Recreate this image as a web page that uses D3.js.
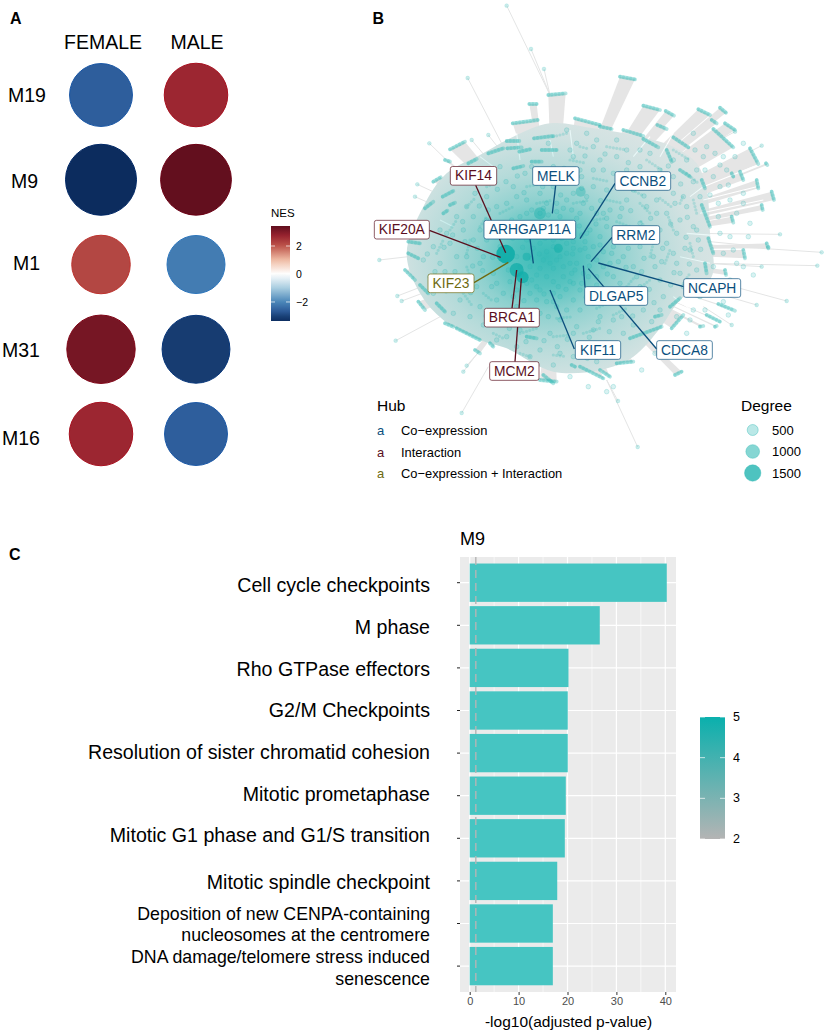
<!DOCTYPE html>
<html><head><meta charset="utf-8">
<script src="https://cdnjs.cloudflare.com/ajax/libs/d3/7.8.5/d3.min.js"></script>
<style>html,body{margin:0;background:#fff}svg{display:block}text{font-family:"Liberation Sans",Arial,sans-serif;fill:#000}</style>
</head><body><svg id="c" width="829" height="1036" viewBox="0 0 829 1036"></svg>
<script>
// ---- Panel A data
const sexes = ["FEMALE","MALE"];
const modules = ["M19","M9","M1","M31","M16"];
const nesFemale = [-2.62,-3.4,2.2,3.15,2.68];
const nesMale = [2.68,3.38,-2.15,-3.1,-2.62];
const nesTicks = [2,0,-2];
// ---- Panel C data
const terms = [["Cell cycle checkpoints"],["M phase"],["Rho GTPase effectors"],["G2/M Checkpoints"],["Resolution of sister chromatid cohesion"],["Mitotic prometaphase"],["Mitotic G1 phase and G1/S transition"],["Mitotic spindle checkpoint"],["Deposition of new CENPA-containing","nucleosomes at the centromere"],["DNA damage/telomere stress induced","senescence"]];
const pvals = [40.3,26.6,20.2,20.05,20.05,19.65,19.45,17.9,17,17];
const pTicks = [0,10,20,30,40];
const colorTicks = [5,4,3,2];
// ---- Panel B data: layout units. The thousands of single
// nodes cannot be read one by one: outer groups are kept as clump segments,
// the interior as a sample of estimated node positions over a density field.
const hullPts = [[520,410],[630,370],[760,385],[900,410],[1000,440],[1070,490],[1100,570],[1110,700],[1115,830],[1020,900],[960,985],[880,1070],[780,1110],[640,1115],[500,1045],[420,1020],[310,960],[240,880],[200,760],[250,620],[320,520],[420,465]];
const clumps = [[625,285,677,280],[568,312,590,312],[518,370,593,360],[582,415,640,408],[500,423,538,423],[445,460,490,445],[502,445,545,442],[538,455,570,448],[330,448,375,425],[385,490,410,477],[315,480,330,485],[280,545,302,532],[255,625,280,605],[308,590,340,573],[330,615,345,608],[310,640,322,632],[605,450,650,450],[705,355,780,375],[575,485,605,485],[520,505,550,498],[840,230,885,238],[910,317,960,330],[977,333,1002,347],[1075,328,1110,345],[1140,323,1158,338],[780,380,815,387],[850,390,910,408],[910,417,955,442],[952,375,980,387],[1000,412,1045,442],[1120,387,1180,442],[1155,370,1185,390],[1230,445,1255,492],[1278,490,1282,495],[1250,540,1255,565],[1295,575,1302,600],[1265,615,1268,630],[1085,540,1095,565],[1085,615,1110,680],[1175,650,1180,668],[1020,510,1050,530],[980,450,995,485],[1200,515,1210,540],[1175,520,1180,530],[1115,360,1130,370],[1105,715,1120,760],[1210,750,1215,775],[1280,730,1285,745],[1155,810,1158,825],[1095,790,1100,820],[990,920,1020,895],[945,950,965,945],[995,985,1030,945],[870,1015,965,980],[830,1090,880,1085],[1005,1125,1025,1115],[1100,945,1140,965],[1080,980,1090,978],[1125,980,1130,978],[1135,912,1185,932],[780,1110,810,1130],[205,760,235,775],[195,810,225,840],[240,855,265,880],[235,905,255,930],[290,910,315,935],[315,970,340,980],[350,985,420,1020],[450,1030,460,1040],[405,1050,420,1060],[560,1010,590,1015],[600,1140,650,1145],[695,1095,705,1100],[205,725,240,730],[720,1100,790,1135],[610,1125,640,1150]];
// short node arcs inside the body
const innerClumps = [[690,480,740,490],[800,440,860,450],[920,480,965,510],[1040,520,1075,550],[560,560,600,552],[640,530,690,525],[760,535,810,545],[860,560,905,585],[960,595,1000,625],[440,560,475,545],[380,620,405,595],[330,690,350,660],[290,760,310,720],[300,840,320,880],[370,880,395,915],[450,945,490,975],[540,1000,590,985],[640,1010,690,1005],[730,1000,780,985],[820,945,860,925],[905,860,935,835],[975,790,990,750],[1000,690,985,650],[900,610,930,640],[800,600,850,610],[700,610,750,600],[590,610,640,600],[480,640,520,620],[420,680,440,650],[380,760,390,720],[390,830,380,800],[430,880,460,905],[540,945,580,950],[650,955,700,950],[770,925,810,905],[860,860,885,830],[930,770,940,730],[920,690,900,660],[830,665,870,680],[760,660,800,655],[1060,600,1070,640],[1050,730,1060,770],[1030,850,1050,820],[640,1065,680,1070],[720,1060,760,1050],[540,1060,570,1070],[460,1000,490,1015],[1020,610,1030,585],[1000,450,1050,480],[640,410,680,400],[720,440,740,445]];
const spokes = [[500,17,630,285],[573,147,630,285],[612,207,630,285],[383,234,490,440],[268,430,330,490],[395,420,445,480],[445,405,480,450],[232,553,290,580],[225,590,270,610],[118,780,205,770],[172,888,245,860],[185,903,260,875],[167,1022,310,945],[380,1097,440,1030],[370,1115,420,1050],[365,1239,445,1100],[893,1341,800,1140],[834,1203,800,1140],[1445,757,1110,735],[1432,797,1100,790],[1320,703,1040,700],[1285,742,1110,725],[1265,800,1100,790],[1340,903,1200,865],[1250,915,1130,880],[1175,975,1090,920],[1265,437,1120,510],[1185,395,1120,430]];
const slits = [[1040,700,1120,706],[1020,770,1110,790],[1090,560,1240,500],[1090,600,1250,560],[960,470,1000,400],[880,470,930,410],[640,470,630,420],[700,470,690,390],[1050,590,1090,560],[300,660,340,680],[460,500,420,470],[540,480,530,400],[470,1040,440,1090],[520,1060,500,1110],[1000,890,1080,950],[1030,850,1140,900],[1080,640,1270,600]];
const innerNodes = [[480,500],[555,520],[640,500],[700,470],[760,440],[830,470],[900,500],[960,510],[1040,480],[1090,470],[1140,495],[1185,470],[1060,545],[1000,580],[940,560],[880,530],[820,520],[760,510],[700,540],[640,560],[590,540],[520,560],[440,590],[380,620],[350,650],[300,690],[280,740],[300,790],[270,830],[330,850],[380,830],[350,770],[400,720],[440,660],[500,610],[560,600],[620,610],[680,600],[740,590],[800,570],[860,600],[920,620],[980,640],[1040,620],[1060,680],[1010,700],[960,690],[900,670],[840,650],[790,640],[720,640],[660,650],[600,670],[540,650],[480,670],[420,690],[380,770],[430,770],[460,820],[410,860],[360,900],[420,920],[470,900],[530,870],[590,860],[640,880],[700,850],[760,870],[820,830],[880,800],[940,770],[1000,760],[1050,750],[1070,810],[1020,820],[960,840],[900,860],[850,910],[780,950],[720,930],[660,960],[600,940],[540,990],[480,960],[430,975],[470,1020],[530,1040],[600,1050],[660,1060],[720,1030],[790,1050],[850,1000],[910,930],[970,890],[1030,860],[1060,870],[740,700],[780,710],[820,740],[860,720],[900,740],[930,710],[980,730],[1020,660],[1080,590],[1140,560],[1170,600],[1210,610],[1230,670],[1170,710],[1150,760],[1190,790],[1240,825],[1130,850],[1080,890],[1060,930],[1010,950],[560,720],[600,730],[640,720],[680,730],[720,750],[770,780],[810,790],[850,770],[800,680],[760,740],[700,700],[650,690],[610,780],[650,780],[690,790],[730,820],[670,830],[620,830],[570,800],[590,900],[530,920],[650,920],[700,900],[760,910],[820,880],[900,890],[960,930],[480,740],[440,720],[330,730],[250,780],[320,700],[370,690],[400,650],[470,620],[530,590],[600,580],[660,530],[720,510],[780,480],[860,450],[930,460],[1000,480],[1070,510],[1120,530],[1000,530],[950,600],[1030,590],[880,570],[760,560],[700,580],[575,630],[625,645],[690,670],[860,690],[1075,720],[1010,790],[945,800],[890,830],[840,850],[770,830],[710,980],[760,990],[820,960],[630,1000],[570,1070],[640,1095],[700,1070],[770,1085],[500,1010],[390,950],[340,940],[280,880],[680,390],[740,400],[830,420],[625,430],[710,430],[1060,400],[1100,440],[1150,470],[1210,430],[1165,555],[1210,580],[1135,610],[1135,650],[1225,710],[1180,750],[1090,860],[1150,905],[1165,945],[1040,1000],[1000,1030],[945,1060],[905,1110],[820,1160],[800,1175],[745,1160],[690,1130],
[498,545],[532,528],[612,522],[672,505],[735,468],[795,462],[865,488],[925,528],[985,498],[1022,552],[972,558],[912,588],[845,548],[782,602],[725,565],[662,585],[608,560],[552,578],[472,568],[418,618],[368,665],[338,705],[312,742],[262,762],[285,815],[345,815],[398,798],[412,745],[452,692],[508,682],[562,672],[612,698],[668,708],[718,678],[768,672],[822,692],[872,632],[932,655],[992,672],[1042,652],[1038,712],[968,745],[912,775],[858,802],[802,822],[748,798],[698,762],[652,752],[598,762],[548,742],[518,715],[458,772],[428,812],[392,878],[438,948],[498,932],[552,902],[612,882],[678,868],[738,892],[798,908],[868,888],[928,868],[992,855],[1048,792],[1082,748],[1002,818],[942,908],[878,948],[808,995],[748,1012],[682,1018],[612,1022],[558,1025],[508,985],[652,1040],[742,1075],[812,1030],[880,975],[935,965],[600,805],[640,805],[680,760],[710,790],[655,860],[620,905],[575,840],[545,825],[585,700],[630,675],[670,625],[710,655],[755,625],[810,630],[845,625],[905,705],[950,640],[1005,610],[470,700],[495,780],[510,845],[455,860],[375,725],[420,790],[350,860],[315,815],[445,630],[405,580],[560,640],[520,690],[600,640],[650,610],[735,725],[790,755],[835,785],[745,770],[725,850],[695,820],[660,890],[625,950],[575,960],[520,950],[700,1000],[775,965],[845,950],[905,815],[865,745],[965,785],[1035,745],[1070,690],[915,545],[860,510],[790,510],[725,530],[575,500],[690,450],[770,420],[900,450],[1065,450],[1125,460],[1095,510],[1160,510],[1110,585],[1190,640],[1140,700],[1210,800],[1120,800],[1170,840],[1150,870],[1095,930],[1050,960],
[545,700],[570,690],[615,715],[640,740],[665,715],[700,725],[725,705],[750,690],[580,745],[620,755],[660,770],[700,745],[735,745],[575,775],[590,825],[630,790],[670,800],[705,810],[745,830],[560,850],[640,845],[690,845],[600,870],[570,880],[640,905],[680,930],[720,870],[770,855],[790,800],[815,760],[780,735],[830,710],[800,655],[770,640],[730,610],[695,630],[650,635],[610,625],[515,660],[495,705],[530,770],[505,810],[540,800],[520,890],[490,880],[470,850]];
const hubNodes = [[497,762,9.3,.95],[530,810,7,.75],[548,832,6,.8],[600,640,6,.4],[722,575,5,.35],[560,770,4,.5],[655,745,4.5,.55]];
const hubLabels = [
 {t:"KIF14",k:1,cx:400.5,cy:527.5,w:139,x2:497,y2:758,x1:407,y1:556},
 {t:"MELK",k:0,cx:647.5,cy:528,w:139,x2:637,y2:640,x1:647,y1:556},
 {t:"CCNB2",k:0,cx:908.5,cy:543,w:167,x2:720,y2:716,x1:825,y1:550},
 {t:"KIF20A",k:1,cx:185.5,cy:689,w:165,x2:482,y2:772,x1:268,y1:691},
 {t:"ARHGAP11A",k:0,cx:569.5,cy:689,w:275,x2:580,y2:790,x1:570,y1:717},
 {t:"RRM2",k:0,cx:887.5,cy:705,w:143,x2:753,y2:785,x1:816,y1:712},
 {t:"KIF23",k:2,cx:333,cy:850,w:138,x2:505,y2:787,x1:402,y1:848},
 {t:"NCAPH",k:0,cx:1116.5,cy:864,w:171,x2:775,y2:789,x1:1031,y1:860},
 {t:"DLGAP5",k:0,cx:828.5,cy:888,w:189,x2:730,y2:797,x1:735,y1:862},
 {t:"BRCA1",k:1,cx:515.5,cy:953,w:165,x2:530,y2:810,x1:516,y1:925},
 {t:"KIF11",k:0,cx:774,cy:1050,w:136,x2:630,y2:870,x1:703,y1:1047},
 {t:"CDCA8",k:0,cx:1033.5,cy:1050,w:167,x2:745,y2:806,x1:950,y1:1047},
 {t:"MCM2",k:1,cx:523,cy:1113,w:148,x2:544,y2:835,x1:525,y1:1085}];
const hubTypes = ["Co\u2212expression","Interaction","Co\u2212expression + Interaction"];
const hubColors = ["#0b4f7d","#5a0f1e","#6e6a10"];
const degreeVals = [500,1000,1500];

const svg = d3.select("#c");
const defs = svg.append("defs");
function txt(g,x,y,s,size,o={}){return g.append("text").attr("x",x).attr("y",y).text(s).attr("font-size",size).attr("text-anchor",o.a||"start").attr("dominant-baseline","central").attr("font-weight",o.w||null).style("fill",o.f||"#000");}

txt(svg,10,18,"A",16,{w:"bold"});txt(svg,372.5,18,"B",16,{w:"bold"});txt(svg,9,554,"C",16,{w:"bold"});

// ---------- Panel A
const ax = d3.scalePoint().domain(sexes).range([101,196]);
const ay = d3.scalePoint().domain(modules).range([95,434]);
const nesColor = d3.scaleLinear().domain([-3.43,-3,-2.6,-2,-1,0,1,2,2.7,3.43]).range(["#0b2a5c","#1a4278","#2f5f9e","#4a86b8","#a9cde0","#ffffff","#f0bda5","#bd554b","#9b2530","#5f0d1d"]);
const nesR = d3.scaleLinear().domain([2.15,3.4]).range([29,35.5]);
const A = svg.append("g");
const rowLabelX = {M19:8,M9:11,M1:13,M31:2,M16:2}, rowLabelDy={M19:0,M9:1,M1:-2,M31:1,M16:4};
modules.forEach((m,i)=>{
  [nesFemale[i],nesMale[i]].forEach((v,j)=>{
    const f=d3.hsl(nesColor(v));const st=d3.hsl(f.h,Math.min(1,f.s*1.35),f.l*.95);
    A.append("circle").attr("cx",ax(sexes[j])).attr("cy",ay(m)).attr("r",nesR(Math.abs(v))).attr("fill",nesColor(v)).attr("stroke",st.formatHex()).attr("stroke-width",1);
  });
  txt(A,rowLabelX[m],ay(m)+rowLabelDy[m],m,19.5);
});
txt(A,103,42,"FEMALE",19.5,{a:"middle"});txt(A,197,42,"MALE",19.5,{a:"middle"});
const ly = d3.scaleLinear().domain([-3.36,3.43]).range([321,226]);
const grA = defs.append("linearGradient").attr("id","nesG").attr("x1",0).attr("y1",1).attr("x2",0).attr("y2",0);
d3.range(0,21).forEach(i=>{const v=-3.36+i*6.79/20;grA.append("stop").attr("offset",i/20).attr("stop-color",nesColor(v));});
A.append("rect").attr("x",271).attr("y",ly(3.43)).attr("width",19).attr("height",ly(-3.36)-ly(3.43)).attr("fill","url(#nesG)");
nesTicks.forEach(t=>{
  A.append("line").attr("x1",271).attr("x2",275).attr("y1",ly(t)).attr("y2",ly(t)).attr("stroke","#fff").attr("stroke-opacity",.7);
  A.append("line").attr("x1",286).attr("x2",290).attr("y1",ly(t)).attr("y2",ly(t)).attr("stroke","#fff").attr("stroke-opacity",.7);
  txt(A,296,ly(t),t<0?"\u2212"+Math.abs(t):t,10.5);
});
txt(A,271,213,"NES",11.5);

// ---------- Panel B
const nx = d3.scaleLinear().domain([0,1467]).range([340,829]);
const ny = d3.scaleLinear().domain([0,1200]).range([0,400]);
const teal="#2fb9b5", center=[640,750];
const B = svg.append("g");
const lineGen = d3.line().x(d=>nx(d[0])).y(d=>ny(d[1]));
const hullPath = d3.line().x(d=>nx(d[0])).y(d=>ny(d[1])).curve(d3.curveCatmullRomClosed)(hullPts);
defs.append("clipPath").attr("id","hullClip").append("path").attr("d",hullPath);
B.selectAll(".sp").data(spokes).join("line").attr("x1",d=>nx(d[0])).attr("y1",d=>ny(d[1])).attr("x2",d=>nx(d[2])).attr("y2",d=>ny(d[3])).attr("stroke","#e4e5e5").attr("stroke-width",1);
B.selectAll(".fan").data(clumps).join("path").attr("d",d=>{
  const f=.42;const p=[[d[0],d[1]],[d[2],d[3]],[d[2]+(center[0]-d[2])*f,d[3]+(center[1]-d[3])*f],[d[0]+(center[0]-d[0])*f,d[1]+(center[1]-d[1])*f]];
  return lineGen(p)+"Z";}).attr("fill","#e5e5e5");
B.append("path").attr("d",hullPath).attr("fill","#e6e7e7");
B.selectAll(".sl").data(slits).join("line").attr("x1",d=>nx(d[0])).attr("y1",d=>ny(d[1])).attr("x2",d=>nx(d[2])).attr("y2",d=>ny(d[3])).attr("stroke","#fff").attr("stroke-width",1.1);
const rg = defs.append("radialGradient").attr("id","dens");
[[0,.95],[.18,.78],[.34,.48],[.52,.27],[.72,.12],[1,.03]].forEach(s=>rg.append("stop").attr("offset",s[0]).attr("stop-color",teal).attr("stop-opacity",s[1]));
B.append("ellipse").attr("clip-path","url(#hullClip)").attr("cx",nx(620)).attr("cy",ny(770)).attr("rx",nx(1230)-nx(630)).attr("ry",ny(1270)-ny(770)).attr("fill","url(#dens)");
B.selectAll(".icl").data(innerClumps).join("line").attr("x1",d=>nx(d[0])).attr("y1",d=>ny(d[1])).attr("x2",d=>nx(d[2])).attr("y2",d=>ny(d[3])).attr("stroke",teal).attr("stroke-opacity",.24).attr("stroke-width",3.2).attr("stroke-linecap","round").attr("stroke-dasharray","0 3.4");
B.selectAll(".in").data(innerNodes).join("circle").attr("cx",d=>nx(d[0])).attr("cy",d=>ny(d[1])).attr("r",2.3).attr("fill",teal).attr("fill-opacity",.18).attr("stroke",teal).attr("stroke-opacity",.32).attr("stroke-width",.7);
B.selectAll(".cl").data(clumps).join("line").attr("x1",d=>nx(d[0])).attr("y1",d=>ny(d[1])).attr("x2",d=>nx(d[2])).attr("y2",d=>ny(d[3])).attr("stroke",teal).attr("stroke-opacity",.36).attr("stroke-width",3.8).attr("stroke-linecap","round");
B.selectAll(".cl2").data(clumps).join("line").attr("x1",d=>nx(d[0])).attr("y1",d=>ny(d[1])).attr("x2",d=>nx(d[2])).attr("y2",d=>ny(d[3])).attr("stroke",teal).attr("stroke-opacity",.3).attr("stroke-width",3.6).attr("stroke-linecap","round").attr("stroke-dasharray","0 3.6");
B.selectAll(".out").data(spokes).join("circle").attr("cx",d=>nx(d[0])).attr("cy",d=>ny(d[1])).attr("r",1.9).attr("fill",teal).attr("fill-opacity",.25).attr("stroke",teal).attr("stroke-opacity",.25).attr("stroke-width",.6);
B.selectAll(".hub").data(hubNodes).join("circle").attr("cx",d=>nx(d[0])).attr("cy",d=>ny(d[1])).attr("r",d=>d[2]).attr("fill","#12aeaa").attr("fill-opacity",d=>d[3]);
B.selectAll(".ld").data(hubLabels).join("line").attr("x1",d=>nx(d.x1)).attr("y1",d=>ny(d.y1)).attr("x2",d=>nx(d.x2)).attr("y2",d=>ny(d.y2)).attr("stroke",d=>hubColors[d.k]).attr("stroke-width",1.3);
hubLabels.forEach(d=>{
  B.append("rect").attr("x",nx(d.cx-d.w/2)).attr("y",ny(d.cy-28)).attr("width",d.w/3).attr("height",56/3).attr("rx",2.2).attr("fill","#fff").attr("stroke",hubColors[d.k]).attr("stroke-opacity",.75).attr("stroke-width",.9);
  txt(B,nx(d.cx),ny(d.cy),d.t,13.8,{a:"middle",f:hubColors[d.k]});
});
txt(B,377,405,"Hub",15.5);
const hubLegendY=[430,452,473.5];
hubTypes.forEach((t,i)=>{txt(B,377,hubLegendY[i],"a",13,{f:hubColors[i]});txt(B,401,hubLegendY[i],t,12.9);});
txt(B,741,405,"Degree",15.5);
const degR = d3.scaleLinear().domain([500,1500]).range([5.5,8.2]);
const degA = d3.scaleLinear().domain([500,1500]).range([.33,.85]);
const degreeY=[430,451.5,473];
degreeVals.forEach((v,i)=>{
  B.append("circle").attr("cx",752.7).attr("cy",degreeY[i]).attr("r",degR(v)).attr("fill",teal).attr("fill-opacity",degA(v)).attr("stroke",teal).attr("stroke-opacity",.5).attr("stroke-width",.8);
  txt(B,772,degreeY[i],v,13);
});

// ---------- Panel C
const C = svg.append("g");
const px = d3.scaleLinear().domain([0,40]).range([469.7,665.3]);
const py = d3.scaleBand().domain(d3.range(terms.length)).range([561.4,987.4]).paddingInner(.1).paddingOuter(.05);
const pL=460,pR=676,pT=557,pB=992;
C.append("rect").attr("x",pL).attr("y",pT).attr("width",pR-pL).attr("height",pB-pT).attr("fill","#ebebeb");
[5,15,25,35].forEach(v=>C.append("line").attr("x1",px(v)).attr("x2",px(v)).attr("y1",pT).attr("y2",pB).attr("stroke","#fff").attr("stroke-width",.6));
pTicks.forEach(v=>C.append("line").attr("x1",px(v)).attr("x2",px(v)).attr("y1",pT).attr("y2",pB).attr("stroke","#fff").attr("stroke-width",1.2));
const rowC = i=>py(i)+py.bandwidth()/2;
terms.forEach((t,i)=>C.append("line").attr("x1",pL).attr("x2",pR).attr("y1",rowC(i)).attr("y2",rowC(i)).attr("stroke","#fff").attr("stroke-width",1.2));
C.selectAll(".bar").data(pvals).join("rect").attr("x",px(0)).attr("y",(d,i)=>py(i)).attr("width",d=>px(d)-px(0)).attr("height",py.bandwidth()).attr("fill","#46c5c2");
C.append("line").attr("x1",px(1.25)).attr("x2",px(1.25)).attr("y1",pT).attr("y2",pB).attr("stroke","#b5b5b5").attr("stroke-width",1.4).attr("stroke-dasharray","8 5");
const xAx = C.append("g").attr("transform",`translate(0,${pB})`).call(d3.axisBottom(px).tickValues(pTicks).tickSize(3).tickPadding(2));
xAx.select(".domain").remove();xAx.selectAll("line").attr("stroke","#333");
xAx.selectAll("text").attr("font-size",11).attr("font-family","Liberation Sans").style("fill","#4d4d4d");
txt(C,568.5,1021,"-log10(adjusted p-value)",15.5,{a:"middle"});
txt(C,460,539,"M9",18);
const termY=[[585],[627],[669],[710],[752],[794],[835],[882],[914,935],[957,979]];
terms.forEach((t,i)=>{
  C.append("line").attr("x1",457).attr("x2",460).attr("y1",rowC(i)).attr("y2",rowC(i)).attr("stroke","#222").attr("stroke-width",1);
  t.forEach((s,k)=>txt(C,430,termY[i][k],s,t.length>1?17.75:19.6,{a:"end"}));
});
const cy = d3.scaleLinear().domain([2,5]).range([839,717]);
const grC = defs.append("linearGradient").attr("id","pG").attr("x1",0).attr("y1",1).attr("x2",0).attr("y2",0);
grC.append("stop").attr("offset",0).attr("stop-color","#b4b4b4");grC.append("stop").attr("offset",1).attr("stop-color","#0ab0ad");
C.append("rect").attr("x",700).attr("y",cy(5)).attr("width",25).attr("height",cy(2)-cy(5)).attr("fill","url(#pG)");
colorTicks.forEach(t=>{
  C.append("line").attr("x1",700).attr("x2",705).attr("y1",cy(t)).attr("y2",cy(t)).attr("stroke","#fff").attr("stroke-opacity",.7);
  C.append("line").attr("x1",720).attr("x2",725).attr("y1",cy(t)).attr("y2",cy(t)).attr("stroke","#fff").attr("stroke-opacity",.7);
  txt(C,733,cy(t),t,12.5);
});
</script></body></html>
